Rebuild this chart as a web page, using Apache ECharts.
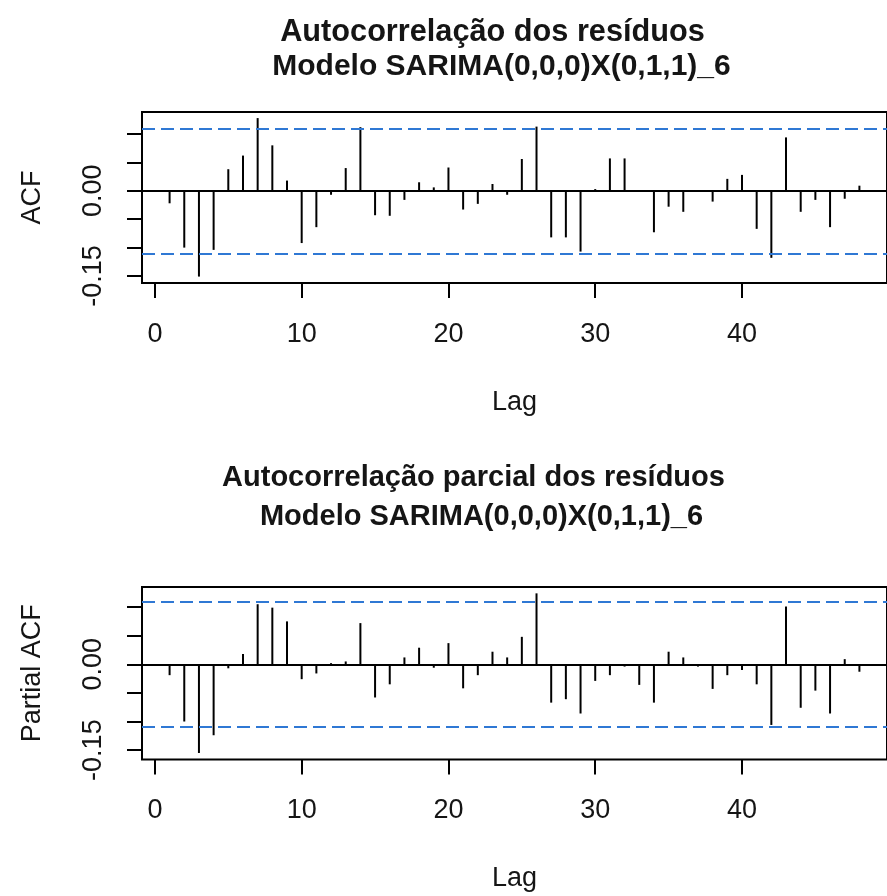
<!DOCTYPE html>
<html>
<head>
<meta charset="utf-8">
<script src="https://cdn.jsdelivr.net/npm/echarts@6/dist/echarts.min.js"></script>
<style>
  html, body { margin: 0; padding: 0; background: #fff; }
  #chart { width: 887px; height: 896px; }
</style>
</head>
<body>
<div id="chart"></div>
<script>
// Residual diagnostics for SARIMA(0,0,0)X(0,1,1)_6: sample ACF and PACF by lag
const lags = [1, 2, 3, 4, 5, 6, 7, 8, 9, 10, 11, 12, 13, 14, 15, 16, 17, 18, 19, 20, 21, 22, 23, 24,
              25, 26, 27, 28, 29, 30, 31, 32, 33, 34, 35, 36, 37, 38, 39, 40, 41, 42, 43, 44, 45, 46, 47, 48];

const acfValues = [-0.022, -0.100, -0.151, -0.104, 0.038, 0.062, 0.128, 0.080, 0.018, -0.092, -0.064, -0.007,
                   0.040, 0.112, -0.043, -0.044, -0.016, 0.015, 0.006, 0.041, -0.033, -0.023, 0.012, -0.007,
                   0.056, 0.113, -0.082, -0.082, -0.107, 0.003, 0.057, 0.057, 0.001, -0.073, -0.028, -0.037,
                   -0.001, -0.019, 0.021, 0.028, -0.067, -0.118, 0.094, -0.037, -0.016, -0.064, -0.014, 0.009];

const pacfValues = [-0.019, -0.100, -0.155, -0.124, -0.007, 0.018, 0.105, 0.099, 0.075, -0.026, -0.016, 0.002,
                    0.005, 0.072, -0.058, -0.035, 0.012, 0.029, -0.006, 0.037, -0.042, -0.019, 0.022, 0.012,
                    0.048, 0.124, -0.067, -0.061, -0.086, -0.029, -0.019, -0.004, -0.036, -0.067, 0.022, 0.012,
                    -0.004, -0.043, -0.019, -0.010, -0.035, -0.106, 0.101, -0.076, -0.046, -0.086, 0.009, -0.013];

// approximate 95% bounds (±2/sqrt(n))
const ciBound = [0.109];

const xTickValues = [0, 10, 20, 30, 40, 50];
const yTickValues = [-0.15, -0.10, -0.05, 0.00, 0.05, 0.10];
const yLabelValues = [-0.15, 0.00];

const titlesAcf = ['Autocorrelação dos resíduos', 'Modelo SARIMA(0,0,0)X(0,1,1)_6'];
const titlesPacf = ['Autocorrelação parcial dos resíduos', 'Modelo SARIMA(0,0,0)X(0,1,1)_6'];
const yNames = ['ACF', 'Partial ACF'];
const xName = 'Lag';

const FONT = '"Liberation Sans", Arial, sans-serif';
const INK = '#151515';

function spikes(values) {
  return lags.map((l, i) => [l, values[i]]);
}

function refLines() {
  const ci = ciBound[0];
  return {
    silent: true,
    symbol: 'none',
    label: { show: false },
    emphasis: { disabled: true },
    data: [
      { yAxis: 0, lineStyle: { color: '#000', width: 2, type: 'solid' } },
      { yAxis: ci, lineStyle: { color: '#2f78d4', width: 2, type: [13, 6] } },
      { yAxis: -ci, lineStyle: { color: '#2f78d4', width: 2, type: [13, 6] } }
    ]
  };
}

function xAxisFor(gridIndex) {
  return {
    type: 'value', gridIndex,
    min: -0.88, max: 49.88,
    axisLine: { show: false, onZero: false },
    splitLine: { show: false },
    axisTick: { show: true, length: 15, customValues: xTickValues, lineStyle: { color: '#000', width: 2 } },
    axisLabel: { customValues: xTickValues, margin: 38, fontSize: 27, color: INK, fontFamily: FONT },
    name: xName, nameLocation: 'middle', nameGap: 106,
    nameTextStyle: { fontSize: 27, color: INK, fontFamily: FONT }
  };
}

function yAxisFor(gridIndex, min, max, name) {
  return {
    type: 'value', gridIndex, min, max,
    axisLine: { show: false, onZero: false },
    splitLine: { show: false },
    axisTick: { show: true, length: 15, customValues: yTickValues, lineStyle: { color: '#000', width: 2 } },
    axisLabel: {
      customValues: yLabelValues, rotate: 90, margin: 35,
      formatter: v => v.toFixed(2),
      fontSize: 27, color: INK, fontFamily: FONT
    },
    name, nameLocation: 'middle', nameRotate: 90, nameGap: 96,
    nameTextStyle: { fontSize: 27, color: INK, fontFamily: FONT }
  };
}

function titleLine(text, centerX, top, size) {
  return {
    text, left: centerX, top, textAlign: 'center', padding: 0,
    textStyle: { fontSize: size, fontWeight: 'bold', color: INK, fontFamily: FONT, lineHeight: size }
  };
}

const chart = echarts.init(document.getElementById('chart'), null, { renderer: 'canvas' });

chart.setOption({
  backgroundColor: '#fff',
  animation: false,
  title: [
    titleLine(titlesAcf[0], 492.5, 17, 30.7),
    titleLine(titlesAcf[1], 501.5, 52, 30),
    titleLine(titlesPacf[0], 473.5, 463.5, 29),
    titleLine(titlesPacf[1], 481.5, 502, 29)
  ],
  grid: [
    { left: 142, top: 112, width: 751, height: 171, show: true, borderColor: '#000', borderWidth: 2, containLabel: false },
    { left: 142, top: 587, width: 751, height: 172.5, show: true, borderColor: '#000', borderWidth: 2, containLabel: false }
  ],
  xAxis: [xAxisFor(0), xAxisFor(1)],
  yAxis: [
    yAxisFor(0, -0.1623, 0.1387, yNames[0]),
    yAxisFor(1, -0.1664, 0.1351, yNames[1])
  ],
  series: [
    {
      type: 'bar', xAxisIndex: 0, yAxisIndex: 0,
      data: spikes(acfValues), barWidth: 2,
      itemStyle: { color: '#000' },
      markLine: refLines()
    },
    {
      type: 'bar', xAxisIndex: 1, yAxisIndex: 1,
      data: spikes(pacfValues), barWidth: 2,
      itemStyle: { color: '#000' },
      markLine: refLines()
    }
  ]
});
</script>
</body>
</html>
